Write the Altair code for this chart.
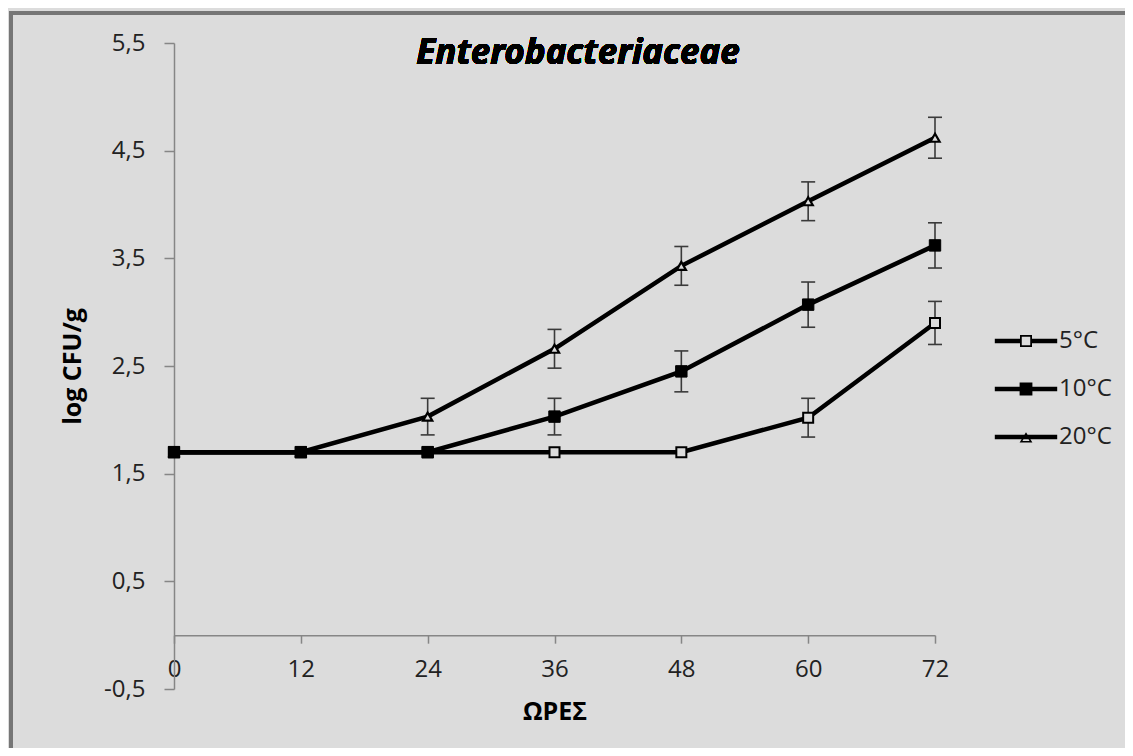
import altair as alt
import pandas as pd

hours = [0, 12, 24, 36, 48, 60, 72]
series_names = ["5°C", "10°C", "20°C"]
t5 = [1.7, 1.7, 1.7, 1.7, 1.7, 2.02, 2.90]
t10 = [1.7, 1.7, 1.7, 2.03, 2.45, 3.07, 3.62]
t20 = [1.7, 1.7, 2.03, 2.66, 3.43, 4.03, 4.62]
e5 = [0, 0, 0, 0, 0, 0.18, 0.20]
e10 = [0, 0, 0, 0.17, 0.19, 0.21, 0.21]
e20 = [0, 0, 0.17, 0.18, 0.18, 0.18, 0.19]
y_ticks = [-0.5, 0.5, 1.5, 2.5, 3.5, 4.5, 5.5]
x_ticks = [0, 12, 24, 36, 48, 60, 72]

rows = []
for name, vals, errs in zip(series_names, [t5, t10, t20], [e5, e10, e20]):
    for h, v, e in zip(hours, vals, errs):
        rows.append({"h": h, "series": name, "v": v, "err": e,
                     "lo": v - e, "hi": v + e})
df = pd.DataFrame(rows)

BG = "#dcdcdc"
AX = "#868686"
FONT = "Open Sans"
W, H = 761, 646

x_enc = alt.X("h:Q", scale=alt.Scale(domain=[0, 72], nice=False),
              axis=alt.Axis(values=x_ticks, title="ΩΡΕΣ", offset=-H / 12,
                            tickSize=8, labelPadding=14, titleY=76,
                            titleBaseline="middle", titleX=W / 2,
                            labelFlush=False))
y_enc = alt.Y("v:Q", scale=alt.Scale(domain=[-0.5, 5.5], nice=False, zero=False),
              axis=alt.Axis(values=y_ticks, title="log CFU/g", tickSize=10,
                            labelPadding=19, titleX=-102, titleY=H / 2,
                            titleAngle=-90, titleBaseline="middle",
                            titleAlign="center",
                            labelExpr="replace(replace(format(datum.value,'.1f'),'.',','),'\u2212','-')"))

base = alt.Chart(df)

err = base.transform_filter("datum.err > 0")
err_rule = err.mark_rule(color="#3a3a3a", strokeWidth=1.6).encode(
    x=x_enc, y=alt.Y("lo:Q"), y2="hi:Q")
cap_hi = err.mark_rule(color="#3a3a3a", strokeWidth=1.6, xOffset=-7, x2Offset=7).encode(
    x="h:Q", x2="h:Q", y="hi:Q")
cap_lo = err.mark_rule(color="#3a3a3a", strokeWidth=1.6, xOffset=-7, x2Offset=7).encode(
    x="h:Q", x2="h:Q", y="lo:Q")

lines = base.mark_line(color="black", strokeWidth=4.5).encode(
    x=x_enc, y=y_enc, detail="series:N")

p20 = base.transform_filter(alt.datum.series == "20°C").mark_point(
    shape="triangle-up", filled=True, fill=BG, stroke="black", strokeWidth=2.2,
    size=85, opacity=1).encode(x="h:Q", y="v:Q")
p5 = base.transform_filter(alt.datum.series == "5°C").mark_point(
    shape="square", filled=True, fill=BG, stroke="black", strokeWidth=2,
    size=100, opacity=1).encode(x="h:Q", y="v:Q")
p10 = base.transform_filter(alt.datum.series == "10°C").mark_point(
    shape="square", filled=True, fill="black", stroke="black", strokeWidth=1,
    size=130, opacity=1).encode(x="h:Q", y="v:Q")

bars_split = "M-3.9,-0.28H-0.75V0.28H-3.9Z M0.75,-0.28H3.9V0.28H0.75Z"
path5 = bars_split + " M-0.75,-0.75H0.75V0.75H-0.75Z M-0.53,-0.53V0.53H0.53V-0.53Z"
path10 = "M-3.9,-0.28H3.9V0.28H-3.9Z M-0.8,-0.8H0.8V0.8H-0.8Z"
path20 = ("M-3.9,-0.28H3.9V0.28H-3.9Z M0,-0.6L0.8,0.7H-0.8Z "
          "M0,-0.22L-0.45,0.5H0.45Z")

legend_layer = base.transform_filter("false").mark_point(
    filled=True, color="black", opacity=1).encode(
    x="h:Q", y="v:Q",
    shape=alt.Shape("series:N",
                    scale=alt.Scale(domain=series_names, range=[path5, path10, path20]),
                    legend=alt.Legend(title=None, orient="none", legendX=840,
                                      legendY=286, symbolSize=256,
                                      symbolFillColor="black",
                                      symbolStrokeColor="black",
                                      symbolStrokeWidth=0, symbolOpacity=1,
                                      labelFontSize=24, labelFont=FONT,
                                      labelColor="#222222", labelOffset=21,
                                      rowPadding=24)))

title = alt.Chart(df).mark_text(
    text="Enterobacteriaceae", font="Noto Sans", fontSize=35, fontWeight="bold",
    fontStyle="italic", align="center", baseline="alphabetic", color="black"
).encode(x=alt.value(404), y=alt.value(21))

frame = alt.Chart(df).mark_rect(fillOpacity=0, stroke="#767676", strokeWidth=3).encode(
    x=alt.value(-163), x2=alt.value(1100), y=alt.value(-30), y2=alt.value(900))

chart = alt.layer(
    frame, err_rule, cap_hi, cap_lo, lines, p20, p5, p10, legend_layer, title
).properties(
    width=W, height=H,
    autosize=alt.AutoSizeParams(type="none"),
    padding={"left": 166, "top": 35, "right": 190, "bottom": 59},
).configure(background=BG).configure_view(stroke=None).configure_axis(
    grid=False, domainColor=AX, domainWidth=1.5, tickColor=AX, tickWidth=1.5,
    labelFont=FONT, labelFontSize=24, labelColor="#222222",
    titleFont=FONT, titleFontSize=25, titleFontWeight="bold", titleColor="black",
)

chart.save("out.html", embed_options={"renderer": "svg", "actions": False})
